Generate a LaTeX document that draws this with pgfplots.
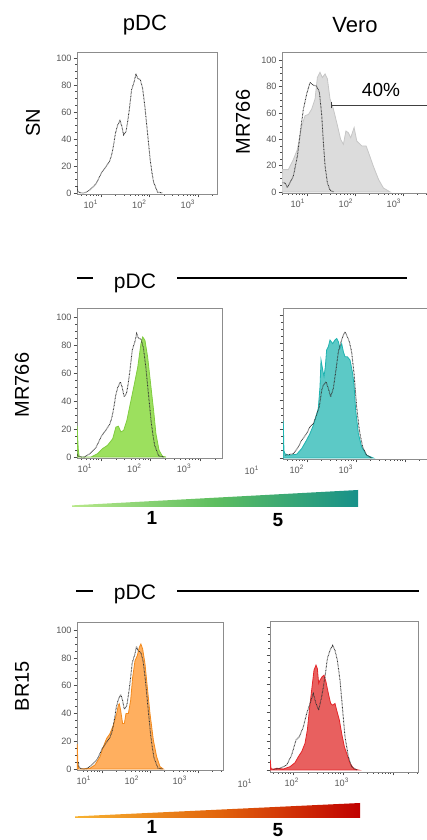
\documentclass[border=0pt]{standalone}
\usepackage{pgfplots}
\pgfplotsset{compat=1.18}
\usepackage{pgfplotstable}
\usepackage{fontspec}
\setmainfont{Liberation Sans}

\definecolor{grayfill}{HTML}{DCDCDC}
\definecolor{grayedge}{HTML}{C6C6C6}
\definecolor{greenfill}{HTML}{9CE05E}
\definecolor{greenedge}{HTML}{80CC40}
\definecolor{cyanfill}{HTML}{5CC9C6}
\definecolor{cyanedge}{HTML}{1FB3B0}
\definecolor{orangefill}{HTML}{FFAF5F}
\definecolor{orangeedge}{HTML}{F28A1E}
\definecolor{redfill}{HTML}{E8605F}
\definecolor{rededge}{HTML}{E3262A}
\definecolor{wg1}{HTML}{B8E88A}
\definecolor{wg2}{HTML}{5DBE5F}
\definecolor{wg3}{HTML}{17918A}
\definecolor{wo1}{HTML}{F7B231}
\definecolor{wo2}{HTML}{E2650C}
\definecolor{wo3}{HTML}{C00000}

% x = log10(fluorescence), y = % of max
\pgfplotstableread{
x y
0.51 5
0.52 1
0.60 0
0.66 0
0.76 2
0.85 5
0.90 7
0.97 12
1.00 14.4
1.06 17.5
1.10 19.4
1.17 23
1.21 27
1.24 31.8
1.27 38
1.295 44
1.34 50
1.39 53.6
1.425 50
1.466 43
1.514 45.4
1.55 53
1.582 61.5
1.63 76.4
1.685 82.6
1.719 88.3
1.753 85
1.808 84
1.856 77.7
1.904 64
1.959 44
2.014 24.3
2.05 15
2.082 8.2
2.164 0.7
2.27 0
}\pdcctrl

\pgfplotstableread{
x y
0.48 0
0.485 17
0.52 17
0.61 17
0.715 24.7
0.80 32.4
0.889 50
0.958 58
1.03 59
1.097 63
1.167 70.7
1.215 87
1.27 91
1.32 87
1.375 89.8
1.424 86
1.479 70.7
1.549 63
1.618 52.8
1.70 40
1.757 36.2
1.81 46.4
1.86 45
1.91 41.3
1.98 49
2.035 38.8
2.14 35
2.23 35
2.28 30
2.38 19.6
2.49 9.4
2.59 3
2.73 0
}\veromr

\pgfplotstableread{
x y
0.49 7
0.542 6.9
0.59 3.3
0.715 12
0.80 27.3
0.868 47.7
0.924 63
0.993 74.5
1.063 83.4
1.10 82
1.132 81.4
1.20 80.4
1.257 76
1.306 58.4
1.34 37.8
1.375 19.9
1.424 6.9
1.479 1.3
1.549 0
}\veroctrl

\pgfplotstableread{
x y
0.516 0
0.518 22
0.54 6
0.56 0
0.8 0
0.93 2.4
1.03 6
1.13 8.3
1.235 13
1.30 21.4
1.35 22
1.40 17.9
1.456 19
1.52 26
1.59 38
1.66 50
1.74 64
1.805 81
1.84 85.7
1.886 83.3
1.94 71.4
2.007 50
2.06 33.3
2.107 16.7
2.17 4.8
2.24 0.5
2.31 0
}\mrone

\pgfplotstableread{
x y
1.512 0
1.515 26
1.53 5
1.55 3
1.62 1.9
1.79 2.6
1.89 6.5
1.99 12.4
2.06 17.1
2.13 22.9
2.18 28.7
2.23 34.6
2.265 49.8
2.286 68.5
2.32 61.7
2.347 57
2.374 63.8
2.40 75.5
2.435 77.8
2.469 82.5
2.524 80
2.571 82.5
2.605 83.6
2.64 81.3
2.673 76.6
2.707 80
2.742 74.3
2.776 70.8
2.823 70.8
2.878 68.5
2.932 59
2.96 50.9
2.993 33.4
3.048 17.1
3.116 7.7
3.218 1.9
3.354 0
}\mrfive

\pgfplotstableread{
x y
1.55 1.9
1.72 3
1.823 7.7
1.89 12.4
1.993 17.1
2.06 21.8
2.13 24.1
2.18 28.7
2.25 35.7
2.30 47.4
2.333 50.9
2.388 53.3
2.435 48.6
2.483 42.8
2.537 48.6
2.59 61.4
2.64 74.3
2.694 81.3
2.742 86
2.776 88.3
2.823 84.8
2.864 81.3
2.91 74.3
2.96 59
3.013 35.7
3.068 19.4
3.136 7.7
3.218 1.9
3.32 0
}\ctrlfour

\pgfplotstableread{
x y
0.482 0
0.485 18
0.50 3
0.52 0
0.75 0.5
0.854 2.9
0.958 8.8
1.028 16
1.097 22
1.167 25.5
1.236 31.5
1.306 39.9
1.34 45.8
1.36 47
1.389 42.2
1.43 32.7
1.465 32.7
1.5 39.9
1.549 39.9
1.597 49.4
1.639 66
1.688 78
1.736 81.6
1.778 87.6
1.81 90
1.847 86.4
1.896 75.7
1.944 59
2.0 39.9
2.07 20.8
2.139 8.8
2.208 1.7
2.278 0
}\brone

\pgfplotstableread{
x y
1.542 0
1.545 7
1.56 1
1.607 0.5
1.673 1.2
1.807 0.7
1.94 2.3
2.04 5.1
2.107 9.3
2.173 12.8
2.24 18.6
2.287 27.9
2.327 41.9
2.373 55.8
2.42 69.8
2.46 73.3
2.487 70.9
2.513 60.5
2.54 62.8
2.58 65.1
2.62 66.3
2.66 61.6
2.707 53.5
2.753 46.5
2.793 45.3
2.84 46.5
2.873 41.9
2.927 34.9
2.973 25.6
3.027 16.3
3.073 11.6
3.14 4.7
3.22 0.7
3.307 0
}\brfive

\pgfplotstableread{
x y
1.607 0.5
1.74 1.2
1.873 3.5
1.973 10.5
2.06 20.9
2.127 23.3
2.207 30.2
2.273 39.5
2.34 46.5
2.407 53.5
2.46 46.5
2.513 41.9
2.573 51.2
2.64 65.1
2.687 77.9
2.74 83.7
2.793 87.2
2.84 83.7
2.887 76.7
2.94 62.8
2.993 41.9
3.04 23.3
3.107 9.3
3.173 2.3
3.273 0
}\ctrlsix

\pgfplotsset{
 facs/.style={
  scale only axis, anchor=south west, clip mode=individual,
  axis line style={black!45, line width=0.45pt},
  tick align=outside, xtick pos=left, ytick pos=left,
  major tick length=1.7pt, minor tick length=0.9pt,
  tick style={black!70, line width=0.35pt},
  minor xtick={0.301,0.477,0.602,0.699,0.778,0.845,0.903,0.954,
   1.301,1.477,1.602,1.699,1.778,1.845,1.903,1.954,
   2.301,2.477,2.602,2.699,2.778,2.845,2.903,2.954,
   3.301,3.477,3.602,3.699,3.778,3.845,3.903,3.954,
   4.301,4.477,4.602,4.699,4.778,4.845,4.903,4.954},
  ytick={0,20,40,60,80,100}, minor y tick num=3,
  yticklabels={0,20,40,60,80,100},
  tick label style={font=\fontsize{4.6}{5.5}\selectfont, text=black!65},
  yticklabel style={inner sep=0.8pt},
  xticklabel style={inner sep=1pt},
 },
 lowx/.style={xtick={1,2,3},
  xticklabels={10\textsuperscript{1},10\textsuperscript{2},10\textsuperscript{3}}},
 highx/.style={xtick={2,3,4},
  xticklabels={10\textsuperscript{2},10\textsuperscript{3},{}}, yticklabels={}},
 dotline/.style={black!80, line width=0.45pt, dash pattern=on 0.35pt off 0.35pt, no markers},
}

\begin{document}
\begin{tikzpicture}
\useasboundingbox (0,0) rectangle (213.5pt,420pt);
\clip (0,0) rectangle (213.5pt,420pt);

% ---------- headers and row labels
\node[font=\fontsize{11}{13}\selectfont] at (72.5pt,407.5pt) {pDC};
\node[font=\fontsize{11}{13}\selectfont] at (177.5pt,407.5pt) {Vero};
\node[font=\fontsize{10}{12}\selectfont, rotate=90] at (16.5pt,358.5pt) {SN};
\node[font=\fontsize{10}{12}\selectfont, rotate=90] at (121.5pt,359pt) {MR766};
\node[font=\fontsize{10}{12}\selectfont, rotate=90] at (11pt,227.5pt) {MR766};
\node[font=\fontsize{10}{12}\selectfont, rotate=90] at (11pt,77pt) {BR15};

\draw[line width=1pt] (38.5pt,281pt) -- (46.5pt,281pt);
\draw[line width=1pt] (88.5pt,281pt) -- (203.5pt,281pt);
\node[font=\fontsize{10.5}{12}\selectfont] at (67.5pt,278.5pt) {pDC};
\draw[line width=1pt] (38pt,124.5pt) -- (46.5pt,124.5pt);
\draw[line width=1pt] (88.5pt,124.5pt) -- (209.5pt,124.5pt);
\node[font=\fontsize{10.5}{12}\selectfont] at (67.5pt,123pt) {pDC};

% ---------- panel 1: SN on pDC
\begin{axis}[facs, lowx, at={(38.5pt,323pt)}, width=70pt, height=71pt,
  xmin=0.505, xmax=3.39, ymin=-0.74, ymax=104.4,
  xticklabel style={xshift=-5pt}]
\addplot[dotline] table {\pdcctrl};
\end{axis}

% ---------- panel 2: MR766 on Vero
\begin{axis}[facs, lowx, at={(141pt,323.5pt)}, width=80pt, height=70.5pt,
  xmin=0.479, xmax=3.81, ymin=-0.8, ymax=106.5,
  xticklabel style={xshift=-4.5pt}]
\addplot[fill=grayfill, draw=grayedge, line width=0.4pt] table {\veromr} \closedcycle;
\addplot[dotline] table {\veroctrl};
\addplot[black!75, line width=0.5pt] coordinates {(1.515,66) (3.81,66)};
\addplot[black!75, line width=0.5pt] coordinates {(1.515,63.5) (1.515,68.5)};
\end{axis}
\node[font=\fontsize{9.5}{11}\selectfont] at (190.5pt,375pt) {40\%};

% ---------- panel 3: MR766 dose 1
\begin{axis}[facs, lowx, at={(38.5pt,191pt)}, width=72.5pt, height=75pt,
  xmin=0.515, xmax=3.44, ymin=-0.7, ymax=106.4,
  xticklabel style={xshift=-8pt}]
\addplot[fill=greenfill, draw=greenedge, line width=0.4pt] table {\mrone} \closedcycle;
\addplot[dotline] table {\pdcctrl};
\end{axis}

% ---------- panel 4: MR766 dose 5
\begin{axis}[facs, highx, at={(141.5pt,190.5pt)}, width=79.5pt, height=75.5pt,
  xmin=1.51, xmax=4.755, ymin=-0.7, ymax=104.9,
  xticklabel style={xshift=-5pt}]
\addplot[fill=cyanfill, draw=cyanedge, line width=0.4pt] table {\mrfive} \closedcycle;
\addplot[dotline] table {\ctrlfour};
\end{axis}
\node[font=\fontsize{4.6}{5.5}\selectfont, text=black!65] at (126pt,185pt) {10\textsuperscript{1}};

% ---------- panel 5: BR15 dose 1
\begin{axis}[facs, lowx, at={(38.5pt,35pt)}, width=73pt, height=74pt,
  xmin=0.48, xmax=3.52, ymin=-0.7, ymax=105.8,
  xticklabel style={xshift=-9pt}]
\addplot[fill=orangefill, draw=orangeedge, line width=0.4pt] table {\brone} \closedcycle;
\addplot[dotline] table {\pdcctrl};
\end{axis}

% ---------- panel 6: BR15 dose 5
\begin{axis}[facs, highx, at={(135pt,34pt)}, width=74pt, height=75.5pt,
  xmin=1.54, xmax=4.5, ymin=-1.4, ymax=104.2,
  xticklabel style={xshift=-0.5pt}]
\addplot[fill=redfill, draw=rededge, line width=0.4pt] table {\brfive} \closedcycle;
\addplot[dotline] table {\ctrlsix};
\end{axis}
\node[font=\fontsize{4.6}{5.5}\selectfont, text=black!65] at (122.5pt,28.5pt) {10\textsuperscript{1}};

% ---------- dose wedges
\shade[left color=wg1, right color=wg3, middle color=wg2]
  (36pt,166.5pt) -- (36pt,167.3pt) -- (179pt,175pt) -- (179pt,166.5pt) -- cycle;
\node[font=\fontsize{9.5}{11}\selectfont\bfseries] at (76pt,161pt) {1};
\node[font=\fontsize{9.5}{11}\selectfont\bfseries] at (139pt,160pt) {5};

\shade[left color=wo1, right color=wo3, middle color=wo2]
  (37.5pt,11pt) -- (37.5pt,11.8pt) -- (180pt,18.5pt) -- (180pt,11pt) -- cycle;
\node[font=\fontsize{9.5}{11}\selectfont\bfseries] at (76pt,6.5pt) {1};
\node[font=\fontsize{9.5}{11}\selectfont\bfseries] at (139pt,5pt) {5};
\end{tikzpicture}
\end{document}
